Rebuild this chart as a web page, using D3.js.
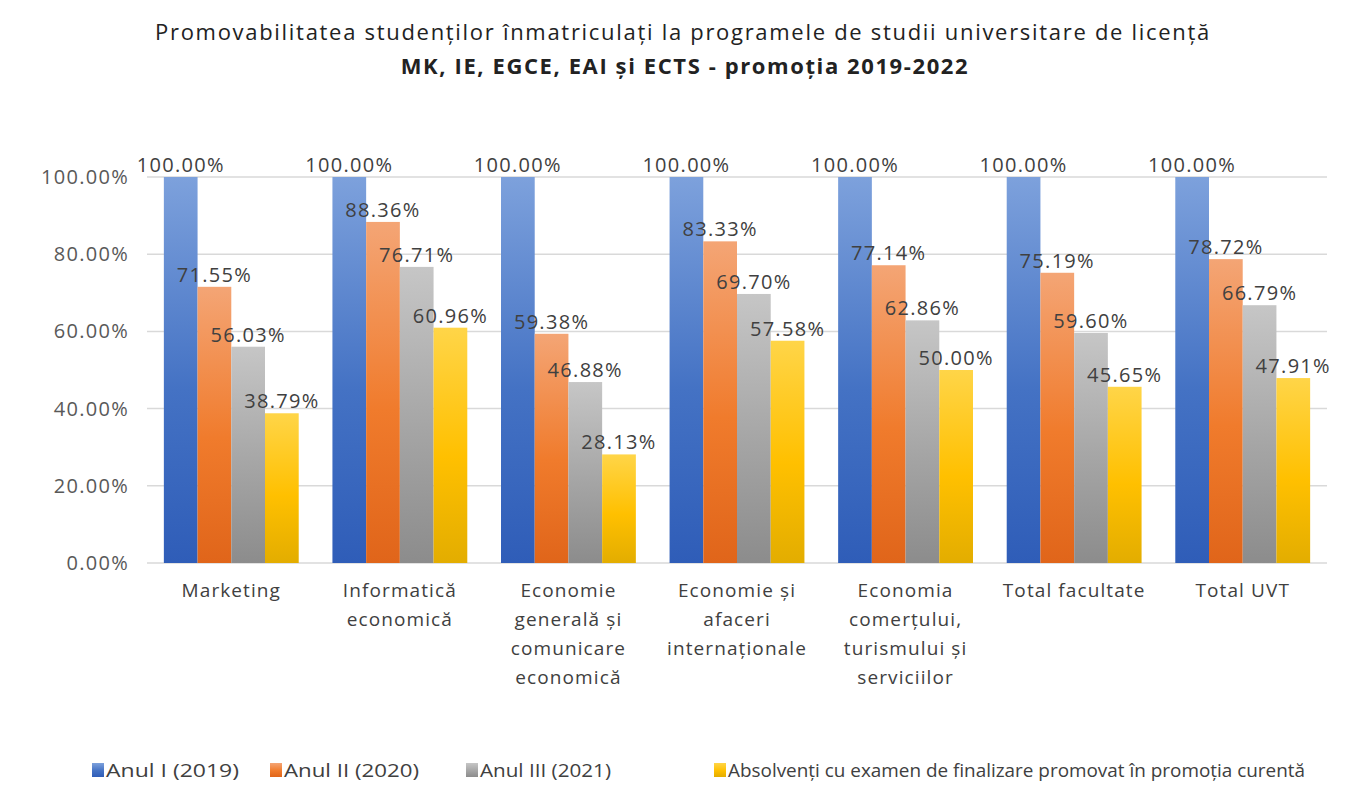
<!DOCTYPE html>
<html>
<head>
  <meta charset="utf-8">
  <title>Promovabilitatea studentilor</title>
  <script src="https://cdnjs.cloudflare.com/ajax/libs/d3/7.8.5/d3.min.js"></script>
  <style>
    body { margin: 0; background: #fff; }
    text { font-family: "Open Sans", "Liberation Sans", sans-serif; }
  </style>
</head>
<body>
<div id="chart"></div>
<script>
  // data
  var categories = [
    ["Marketing"],
    ["Informatică", "economică"],
    ["Economie", "generală și", "comunicare", "economică"],
    ["Economie și", "afaceri", "internaționale"],
    ["Economia", "comerțului,", "turismului și", "serviciilor"],
    ["Total facultate"],
    ["Total UVT"]
  ];
  var seriesNames = ["Anul I (2019)", "Anul II (2020)", "Anul III (2021)",
    "Absolvenți cu examen de finalizare promovat în promoția curentă"];
  var anul1 = [100, 100, 100, 100, 100, 100, 100];
  var anul2 = [71.55, 88.36, 59.38, 83.33, 77.14, 75.19, 78.72];
  var anul3 = [56.03, 76.71, 46.88, 69.70, 62.86, 59.60, 66.79];
  var absolventi = [38.79, 60.96, 28.13, 57.58, 50.00, 45.65, 47.91];
  var yTicks = [0, 20, 40, 60, 80, 100];

  var series = [anul1, anul2, anul3, absolventi];
  var grads = [
    ["#7da1dc", "#4472c4", "#2f5db8"],
    ["#f4a575", "#f07b2c", "#e0651a"],
    ["#c6c6c6", "#a5a5a5", "#8c8c8c"],
    ["#ffd548", "#ffc000", "#e3ad00"]
  ];

  var W = 1345, H = 801;
  var margin = {top: 177, right: 18, bottom: 238, left: 147};
  var width = W - margin.left - margin.right,
      height = H - margin.top - margin.bottom;

  var svg = d3.select("#chart").append("svg")
    .attr("width", W).attr("height", H);

  var defs = svg.append("defs");
  grads.forEach(function (g, i) {
    var lg = defs.append("linearGradient").attr("id", "g" + i)
      .attr("x1", 0).attr("y1", 0).attr("x2", 0).attr("y2", 1);
    lg.append("stop").attr("offset", "0%").attr("stop-color", g[0]);
    lg.append("stop").attr("offset", "55%").attr("stop-color", g[1]);
    lg.append("stop").attr("offset", "100%").attr("stop-color", g[2]);
  });

  // title
  svg.append("text").attr("x", 683).attr("y", 40).attr("text-anchor", "middle")
    .attr("font-size", 22).attr("letter-spacing", 1.7).attr("fill", "#222")
    .text("Promovabilitatea studenților înmatriculați la programele de studii universitare de licență");
  svg.append("text").attr("x", 685).attr("y", 74).attr("text-anchor", "middle")
    .attr("font-size", 22).attr("letter-spacing", 1.6).attr("font-weight", "bold").attr("fill", "#222")
    .text("MK, IE, EGCE, EAI și ECTS - promoția 2019-2022");

  var g = svg.append("g").attr("transform", "translate(" + margin.left + "," + margin.top + ")");

  var x0 = d3.scaleBand().domain(d3.range(categories.length)).range([0, width]).paddingInner(0.2).paddingOuter(0.1);
  var x1 = d3.scaleBand().domain(d3.range(series.length)).range([0, x0.bandwidth()]);
  var y = d3.scaleLinear().domain([0, 100]).range([height, 0]);

  // grid
  g.append("g").selectAll("line").data(yTicks).join("line")
    .attr("x1", 0).attr("x2", width)
    .attr("y1", function (d) { return y(d); }).attr("y2", function (d) { return y(d); })
    .attr("stroke", "#d9d9d9").attr("stroke-width", 1.5);

  // y axis labels
  var yAxis = g.append("g").attr("transform", "translate(-15,0)")
    .call(d3.axisLeft(y).tickValues(yTicks).tickSize(0).tickFormat(function (d) { return d.toFixed(2) + "%"; }));
  yAxis.select(".domain").remove();
  yAxis.selectAll("text").attr("font-size", 20).attr("letter-spacing", 1.3).attr("fill", "#595959")
    .style("font-family", "'Open Sans', 'Liberation Sans', sans-serif");

  // bars
  series.forEach(function (vals, si) {
    var sg = g.append("g");
    sg.selectAll("rect").data(vals).join("rect")
      .attr("x", function (d, i) { return x0(i) + x1(si); })
      .attr("y", function (d) { return y(d); })
      .attr("width", x1.bandwidth())
      .attr("height", function (d) { return height - y(d); })
      .attr("fill", "url(#g" + si + ")");
  });
  series.forEach(function (vals, si) {
    g.append("g").selectAll("text").data(vals).join("text")
      .attr("x", function (d, i) { return x0(i) + x1(si) + x1.bandwidth() / 2; })
      .attr("y", function (d) { return y(d) - 5; })
      .attr("text-anchor", "middle")
      .attr("font-size", 20).attr("letter-spacing", 1.3).attr("fill", "#404040")
      .text(function (d) { return d.toFixed(2) + "%"; });
  });

  // category labels
  var cl = g.append("g").selectAll("text").data(categories).join("text")
    .attr("text-anchor", "middle").attr("font-size", 19).attr("letter-spacing", 1.1).attr("fill", "#404040")
    .attr("transform", function (d, i) { return "translate(" + (x0(i) + x0.bandwidth() / 2) + "," + (height + 34) + ")"; });
  cl.selectAll("tspan").data(function (d) { return d; }).join("tspan")
    .attr("x", 0).attr("dy", function (d, i) { return i ? 29 : 0; })
    .text(function (d) { return d; });

  // legend
  var legX = [92, 270, 466, 714];
  var legW = [133, 135, 131, 577];
  var leg = svg.append("g").selectAll("g").data(seriesNames).join("g")
    .attr("transform", function (d, i) { return "translate(" + legX[i] + ",763)"; });
  leg.append("rect").attr("width", 12).attr("height", 14)
    .attr("fill", function (d, i) { return "url(#g" + i + ")"; });
  leg.append("text").attr("x", 14).attr("y", 14).attr("font-size", 18).attr("fill", "#404040")
    .attr("textLength", function (d, i) { return legW[i]; })
    .attr("lengthAdjust", "spacingAndGlyphs")
    .text(function (d) { return d; });
</script>
</body>
</html>
